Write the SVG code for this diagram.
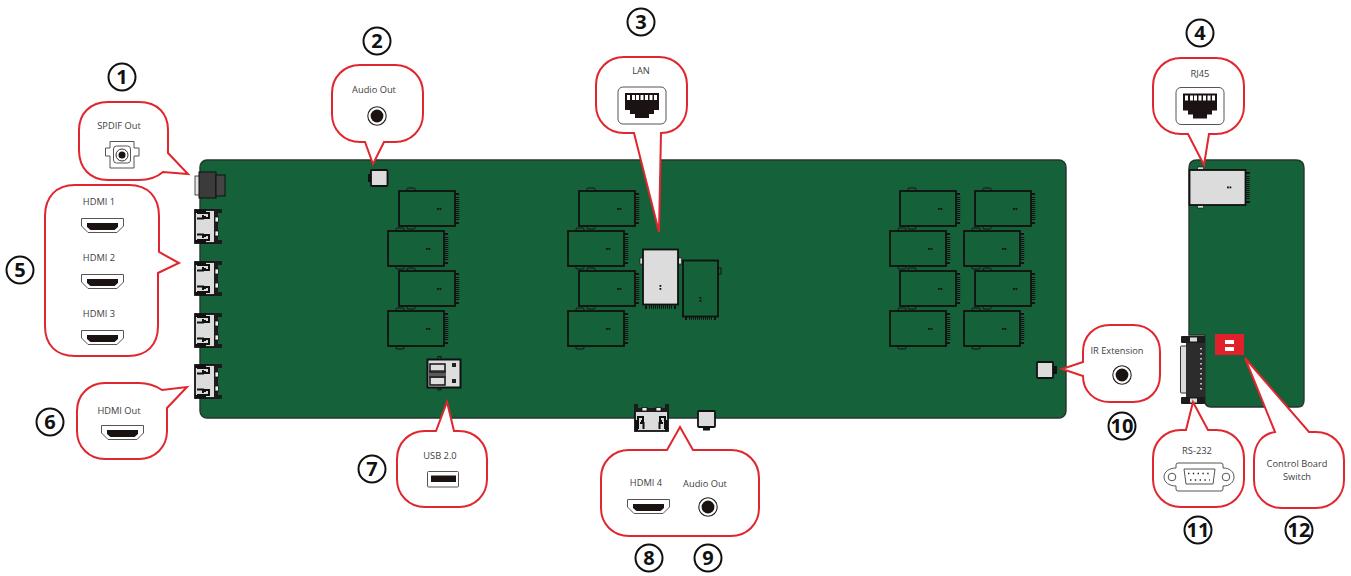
<svg xmlns="http://www.w3.org/2000/svg" width="1351" height="576" viewBox="0 0 1351 576">
<style>
.board{fill:#15613a;stroke:#26352c;stroke-width:1.4}
.bub{fill:#fff;stroke:#e0262e;stroke-width:2;stroke-linejoin:miter}
.lbl{font-family:"Open Sans","Noto Sans",sans-serif;font-size:9.3px;fill:#404040;text-anchor:middle}
.num{font-family:"Open Sans","Noto Sans",sans-serif;font-size:20px;font-weight:700;fill:#111;text-anchor:middle}
.ring{fill:#fff;stroke:#111;stroke-width:2}
.ol{fill:none;stroke:#111;stroke-width:1.800}
.thin{fill:none;stroke:#111;stroke-width:.9}
.gr{fill:#dcdcdc;stroke:#111;stroke-width:1.800}
.ic{fill:#fff;stroke:#555;stroke-width:1}
.k{fill:#1a1311}
</style>
<defs>
<g id="module">
<rect x="8" y="-3" width="8" height="3" rx="1" class="thin"/>
<rect x="8" y="35" width="8" height="3" rx="1" class="thin"/>
<rect x="0" y="0" width="56" height="35" class="ol"/>
<path d="M56 3H60M56 32H60" stroke="#111" stroke-width="2"/>
<path d="M58.500 6V29" stroke="#111" stroke-width="3.500" stroke-dasharray="1 1"/>
<rect x="38" y="17" width="1.800" height="1.800" fill="#111"/><rect x="40.500" y="17" width="1.800" height="1.800" fill="#111"/>
</g>
<g id="hdmiport">
<rect x="0" y="0" width="22" height="33" class="gr"/>
<path d="M2 3H14V8H10V6M2 8.500H8V5M2 24.500H8V28M2 30H14V25H10V27" fill="none" stroke="#111" stroke-width="2"/>
<path d="M0 0H11V3H0ZM0 30H11V33H0Z" fill="#111"/>
<path d="M19 -1H27V3H23V30H27V34H19Z" fill="#1c1c1c"/>
<rect x="20" y="7" width="3.500" height="5" fill="#eee" stroke="#111" stroke-width=".8"/>
<rect x="20" y="21" width="3.500" height="5" fill="#eee" stroke="#111" stroke-width=".8"/>
</g>
<g id="hdmiicon">
<path d="M.5 .5H42.500V8L36 14.500H7L.5 8Z" class="ic"/>
<path d="M6 5H37V9L33.500 12H9.500L6 9Z" class="k"/>
</g>
<g id="rj">
<rect x="0" y="0" width="48" height="37" rx="5" class="ic"/>
<path d="M7 6H41V23H36V27H31V31H17V27H12V23H7Z" class="k"/>
<path d="M9 8h3v5h-3zM14 8h3v5h-3zM18 8h3v5h-3zM22.500 8h3v5h-3zM27 8h3v5h-3zM31.500 8h3v5h-3zM36 8h3v5h-3z" fill="#fff"/>
</g>
<g id="jack">
<circle r="9.200" fill="#fff" stroke="#222" stroke-width="1.100"/>
<circle r="6.400" class="k"/>
</g>
</defs>

<g id="boards">
<rect class="board" x="200" y="160" width="866" height="258" rx="7"/>
<path class="board" d="M1197 160H1296C1301 160 1304 163 1304 168V400C1304 405 1301 407 1298 407H1211C1207 407 1205 405 1205 401V335H1189V168C1189 163 1192 160 1197 160Z"/>
</g>

<g id="components">
<use href="#module" x="399" y="191"/><use href="#module" x="388" y="231"/><use href="#module" x="399" y="271"/><use href="#module" x="388" y="311"/>
<use href="#module" x="579" y="191"/><use href="#module" x="568" y="231"/><use href="#module" x="579" y="271"/><use href="#module" x="568" y="311"/>
<use href="#module" x="900" y="191"/><use href="#module" x="890" y="231"/><use href="#module" x="900" y="271"/><use href="#module" x="890" y="311"/>
<use href="#module" x="975" y="191"/><use href="#module" x="964" y="231"/><use href="#module" x="975" y="271"/><use href="#module" x="964" y="311"/>

<rect x="195" y="176" width="5" height="19" fill="#e6e6e6" stroke="#222" stroke-width=".8"/>
<rect x="199" y="172" width="17" height="26" fill="#3b3b3b" stroke="#111"/>
<rect x="216" y="175" width="9" height="21" fill="#444" stroke="#111"/>

<use href="#hdmiport" x="195" y="210"/><use href="#hdmiport" x="195" y="262"/><use href="#hdmiport" x="195" y="314"/><use href="#hdmiport" x="195" y="365"/>
<use href="#hdmiport" transform="translate(635 431) rotate(-90)"/>

<rect x="371" y="170" width="16.500" height="16" rx="1" class="gr"/><rect x="368" y="174" width="3" height="8" fill="#111"/>
<rect x="698" y="411" width="17" height="16" rx="1" class="gr"/><rect x="703" y="427" width="7" height="3.500" fill="#111"/>
<rect x="1037" y="362" width="16" height="16" rx="1" class="gr"/><rect x="1053" y="366" width="4" height="8" fill="#111"/>

<rect x="427.500" y="359.500" width="33" height="28" fill="#ddd" stroke="#111" stroke-width="2"/>
<path d="M430 364H445V372H430ZM430 377H445V385H430Z" fill="none" stroke="#111" stroke-width="1.500"/>
<path d="M429 370H446V378H429Z" fill="#222" opacity=".7"/>
<rect x="452" y="363" width="4" height="4" fill="#222"/><rect x="452" y="379" width="4" height="4" fill="#222"/>
<rect x="438" y="356.500" width="3" height="3" class="thin"/><rect x="438" y="388" width="3" height="2" class="thin"/>

<rect x="640" y="258" width="3" height="6" fill="#ddd" stroke="#111" stroke-width=".6"/>
<rect x="678.500" y="258" width="3" height="6" fill="#ddd" stroke="#111" stroke-width=".6"/>
<rect x="643" y="249.500" width="35" height="55" class="gr"/>
<path d="M646 305.500V309M675 305.500V309" stroke="#111" stroke-width="2"/>
<path d="M649 307H672" stroke="#111" stroke-width="3.500" stroke-dasharray="1 1"/>
<rect x="659.500" y="285" width="1.800" height="1.800" fill="#111"/><rect x="659.500" y="288" width="1.800" height="1.800" fill="#111"/>

<rect x="683" y="260.500" width="35" height="56" class="ol"/>
<rect x="718" y="268" width="3" height="6" class="thin"/>
<path d="M686 317V320M715 317V320" stroke="#111" stroke-width="2"/>
<path d="M689 318H712" stroke="#111" stroke-width="3.500" stroke-dasharray="1 1"/>
<rect x="699.500" y="297" width="1.800" height="1.800" fill="#111"/><rect x="699.500" y="300" width="1.800" height="1.800" fill="#111"/>

<rect x="1197.500" y="167" width="6" height="3" fill="#ddd" stroke="#111" stroke-width=".6"/>
<rect x="1197.500" y="205" width="6" height="3" fill="#ddd" stroke="#111" stroke-width=".6"/>
<rect x="1189.500" y="170" width="56" height="35" class="gr"/>
<path d="M1245 173H1250M1245 202H1250" stroke="#111" stroke-width="2"/>
<path d="M1248 176V199" stroke="#111" stroke-width="3.500" stroke-dasharray="1 1"/>
<rect x="1227" y="186.500" width="1.800" height="1.800" fill="#111"/><rect x="1229.500" y="186.500" width="1.800" height="1.800" fill="#111"/>

<rect x="1180.500" y="346" width="6" height="47" rx="1" fill="#dcdcdc" stroke="#333"/>
<rect x="1186" y="336" width="19" height="68" fill="#2c2c2c"/>
<rect x="1181" y="336" width="24" height="7" rx="1" fill="#1c1c1c"/><rect x="1181" y="397" width="24" height="7" rx="1" fill="#1c1c1c"/>
<rect x="1190" y="337.500" width="7" height="4" fill="#ddd"/><rect x="1190" y="398.500" width="7" height="4" fill="#ddd"/>
<path d="M1201 348V390" stroke="#bbb" stroke-width="2" stroke-dasharray="1.500 3.500"/>

<rect x="1215" y="334" width="29" height="21" fill="#e0202b"/>
<rect x="1225" y="340" width="9" height="4" fill="#fff"/><rect x="1225" y="347" width="9" height="4" fill="#fff"/>
</g>

<g id="connectors">
<path class="bub" d="M108 102H139C158 102 168 114 168 130V153L188 174L163 172C156 178 148 180 139 180H108C90 180 79 168 79 150V130C79 114 90 102 108 102Z"/>
<path class="bub" d="M360 65H395C411 65 423 77 423 93V114C423 130 411 142 395 142H384L373 164L365 142H360C344 142 332 130 332 114V93C332 77 344 65 360 65Z"/>
<path class="bub" d="M624 57H659C675 57 687 69 687 85V105C687 121 677 133 661 133L659 232L634 133H624C608 133 596 121 596 105V85C596 69 608 57 624 57Z"/>
<path class="bub" d="M1181 58H1216C1232 58 1244 70 1244 86V106C1244 122 1232 134 1216 134H1209L1204 165L1188 134H1181C1165 134 1153 122 1153 106V86C1153 70 1165 58 1181 58Z"/>
<path class="bub" d="M75 185H129C148 185 159 197 159 216V252L179 263L158 273V326C158 345 147 356 128 356H75C56 356 45 345 45 326V216C45 197 56 185 75 185Z"/>
<path class="bub" d="M105 383H139C149 383 156 386 162 390L187 387L167 408V431C167 447 155 459 139 459H105C89 459 77 447 77 431V411C77 395 89 383 105 383Z"/>
<path class="bub" d="M425 431H436L447 402L454 431H459C475 431 487 443 487 459V479C487 495 475 507 459 507H425C409 507 397 495 397 479V459C397 443 409 431 425 431Z"/>
<path class="bub" d="M629 450H667L680 427L693 450H731C747 450 759 462 759 478V508C759 524 747 536 731 536H629C613 536 601 524 601 508V478C601 462 613 450 629 450Z"/>
<path class="bub" d="M1110 325H1133C1149 325 1160 336 1160 352V375C1160 391 1149 402 1133 402H1110C1094 402 1083 391 1083 376L1062 369L1083 362V352C1083 336 1094 325 1110 325Z"/>
<path class="bub" d="M1181 430H1186L1193 402L1208 430H1216C1232 430 1244 442 1244 458V479C1244 495 1232 507 1216 507H1181C1165 507 1153 495 1153 479V458C1153 442 1165 430 1181 430Z"/>
<path class="bub" d="M1275 432L1245 358L1309 432H1316C1332 432 1344 444 1344 460V480C1344 496 1332 508 1316 508H1282C1266 508 1254 496 1254 480V460C1254 444 1262 434 1275 432Z"/>
</g>

<g id="n1">
<text class="lbl" x="119" y="129">SPDIF Out</text>
<path d="M110 141.500H134V148H139V156H134V168H110V156H105.500V148H110Z" class="ic" stroke-linejoin="round"/>
<rect x="113.500" y="146" width="17" height="17" rx="3" class="ic"/>
<circle cx="122" cy="155" r="6" fill="#fff" stroke="#333" stroke-width="1"/><circle cx="122" cy="155" r="3.500" class="k"/>
<circle cx="122" cy="77" r="13.500" class="ring"/><text class="num" x="122" y="84">1</text>
</g>
<g id="n2">
<text class="lbl" x="374" y="93">Audio Out</text>
<use href="#jack" x="377" y="116"/>
<circle cx="377" cy="41" r="13.500" class="ring"/><text class="num" x="377" y="48">2</text>
</g>
<g id="n3">
<text class="lbl" x="641" y="74">LAN</text>
<use href="#rj" x="618" y="87"/>
<circle cx="641" cy="22" r="13.500" class="ring"/><text class="num" x="641" y="29">3</text>
</g>
<g id="n4">
<text class="lbl" x="1200" y="77">RJ45</text>
<use href="#rj" x="1176" y="87.500"/>
<circle cx="1200" cy="33" r="13.500" class="ring"/><text class="num" x="1200" y="40">4</text>
</g>
<g id="n5">
<text class="lbl" x="99" y="205">HDMI 1</text><use href="#hdmiicon" x="81" y="218"/>
<text class="lbl" x="99" y="261">HDMI 2</text><use href="#hdmiicon" x="81" y="274"/>
<text class="lbl" x="99" y="317">HDMI 3</text><use href="#hdmiicon" x="81" y="330"/>
<circle cx="20" cy="270" r="13.500" class="ring"/><text class="num" x="20" y="277">5</text>
</g>
<g id="n6">
<text class="lbl" x="119" y="414">HDMI Out</text><use href="#hdmiicon" x="101" y="425"/>
<circle cx="50" cy="422" r="13.500" class="ring"/><text class="num" x="50" y="429">6</text>
</g>
<g id="n7">
<text class="lbl" x="440" y="459">USB 2.0</text>
<rect x="427.500" y="471.500" width="31" height="15.500" rx="1" class="ic"/><rect x="431" y="475.500" width="25" height="6.500" class="k"/>
<circle cx="372" cy="469" r="13.500" class="ring"/><text class="num" x="372" y="476">7</text>
</g>
<g id="n8">
<text class="lbl" x="646" y="486">HDMI 4</text><use href="#hdmiicon" x="627" y="499"/>
<circle cx="649" cy="558" r="13.500" class="ring"/><text class="num" x="649" y="565">8</text>
</g>
<g id="n9">
<text class="lbl" x="705" y="487">Audio Out</text><use href="#jack" x="708" y="507"/>
<circle cx="708" cy="558" r="13.500" class="ring"/><text class="num" x="708" y="565">9</text>
</g>
<g id="n10">
<text class="lbl" x="1117" y="354">IR Extension</text><use href="#jack" x="1122" y="375"/>
<circle cx="1122" cy="426" r="13.500" class="ring"/><text class="num" x="1122" y="433">10</text>
</g>
<g id="n11">
<text class="lbl" x="1197" y="454">RS-232</text>
<path d="M1176 465Q1176 463 1178 463H1221Q1223 463 1223 465V468C1230 468 1234 472 1234 477S1230 486 1223 486V489Q1223 491 1221 491H1178Q1176 491 1176 489V486C1169 486 1164 482 1164 477S1169 468 1176 468Z" class="ic"/>
<circle cx="1172" cy="477" r="3.800" class="ic"/><circle cx="1226" cy="477" r="3.800" class="ic"/>
<path d="M1184 469H1215L1213 484H1186Z" class="ic" stroke-linejoin="round"/>
<path d="M1188 473.500H1212" stroke="#222" stroke-width="1.400" stroke-dasharray="1.400 3.400"/>
<path d="M1190 480H1210" stroke="#222" stroke-width="1.400" stroke-dasharray="1.400 3.400"/>
<circle cx="1198" cy="530" r="13.500" class="ring"/><text class="num" x="1198" y="537">11</text>
</g>
<g id="n12">
<text class="lbl" x="1297" y="467">Control Board</text><text class="lbl" x="1297" y="480">Switch</text>
<circle cx="1299" cy="530" r="13.500" class="ring"/><text class="num" x="1299" y="537">12</text>
</g>
</svg>
